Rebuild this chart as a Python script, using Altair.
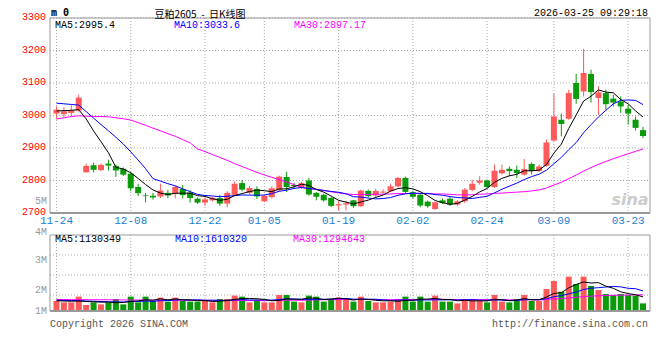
import altair as alt
import pandas as pd

# ---------------- data ----------------
idx = list(range(80))

opens = [3006, 3004, 3008, 3015, 2825, 2847, 2832, 2852, 2845, 2836,
         2821, 2780, 2754, 2753, 2751, 2762, 2759, 2774, 2763, 2744,
         2732, 2739, 2746, 2729, 2756, 2792, 2762, 2774, 2736, 2749,
         2770, 2811, 2786, 2778, 2800, 2762, 2756, 2746, 2723, 2726,
         2739, 2721, 2768, 2754, 2763, 2767, 2782, 2808, 2764, 2756,
         2735, 2712, 2739, 2744, 2726, 2736, 2771, 2793, 2800, 2780,
         2822, 2836, 2833, 2818, 2851, 2829, 2845, 2923, 2987, 2990,
         3100, 3074, 3128, 3054, 3069, 3052, 3043, 3021, 2987, 2955]

closes = [3018, 3013, 3016, 3055, 2845, 2833, 2848, 2846, 2831, 2818,
          2776, 2761, 2752, 2748, 2769, 2754, 2780, 2755, 2746, 2732,
          2742, 2746, 2729, 2762, 2790, 2772, 2777, 2751, 2753, 2776,
          2812, 2780, 2783, 2792, 2757, 2750, 2739, 2722, 2727, 2730,
          2721, 2769, 2752, 2768, 2766, 2782, 2808, 2765, 2750, 2723,
          2721, 2733, 2731, 2726, 2736, 2772, 2790, 2800, 2780, 2830,
          2833, 2829, 2823, 2835, 2829, 2843, 2917, 2997, 2974, 3069,
          3051, 3131, 3072, 3071, 3035, 3040, 3028, 3006, 2962, 2937]

highs = [3028, 3025, 3032, 3064, 2852, 2855, 2852, 2864, 2849, 2840,
         2826, 2790, 2762, 2762, 2790, 2771, 2785, 2786, 2770, 2748,
         2748, 2751, 2756, 2767, 2797, 2802, 2783, 2782, 2757, 2782,
         2815, 2827, 2793, 2796, 2808, 2764, 2760, 2749, 2736, 2737,
         2740, 2772, 2772, 2775, 2773, 2790, 2811, 2812, 2768, 2760,
         2738, 2735, 2745, 2750, 2740, 2777, 2802, 2813, 2803, 2849,
         2849, 2843, 2846, 2866, 2856, 2849, 2926, 3067, 3006, 3079,
         3128, 3205, 3141, 3090, 3080, 3064, 3059, 3033, 2997, 2965]

lows = [2990, 2996, 2998, 3012, 2825, 2825, 2828, 2831, 2811, 2814,
        2767, 2752, 2733, 2741, 2746, 2746, 2745, 2745, 2732, 2728,
        2721, 2735, 2722, 2718, 2751, 2767, 2757, 2743, 2733, 2745,
        2767, 2765, 2776, 2774, 2753, 2739, 2735, 2718, 2708, 2708,
        2716, 2718, 2748, 2749, 2758, 2765, 2779, 2760, 2745, 2718,
        2716, 2710, 2728, 2722, 2722, 2731, 2767, 2787, 2777, 2777,
        2818, 2813, 2808, 2815, 2818, 2826, 2843, 2920, 2936, 2987,
        3036, 3059, 3040, 3002, 3018, 3028, 3008, 2972, 2954, 2931]

ma5 = [3014, 3015, 3016, 3018, 2989.4, 2952.4, 2919.4, 2885.4, 2840.6, 2835.2,
       2823.8, 2806.4, 2787.6, 2771.0, 2761.2, 2756.8, 2760.6, 2761.2, 2760.8, 2753.4,
       2751.0, 2744.2, 2739.0, 2742.2, 2753.8, 2759.8, 2766.0, 2770.4, 2768.6, 2765.8,
       2773.8, 2774.4, 2780.8, 2788.6, 2784.8, 2772.4, 2764.2, 2752.0, 2739.0, 2733.6,
       2727.8, 2733.8, 2739.8, 2748.0, 2755.2, 2767.4, 2775.2, 2777.8, 2774.2, 2765.6,
       2753.4, 2738.4, 2731.6, 2726.8, 2729.4, 2739.6, 2751.0, 2764.8, 2775.6, 2794.4,
       2806.6, 2814.4, 2819.0, 2830.0, 2829.8, 2831.8, 2849.4, 2884.2, 2912.0, 2960.0,
       3001.6, 3044.4, 3059.4, 3078.8, 3072.0, 3069.8, 3049.2, 3036.0, 3014.2, 2995.4]

ma10 = [3038, 3036, 3034, 3032, 3012, 2992, 2972, 2953, 2933, 2912.3,
        2888.1, 2862.9, 2836.5, 2805.8, 2798.2, 2790.3, 2783.5, 2774.4, 2765.9, 2757.3,
        2753.9, 2752.4, 2750.1, 2751.5, 2753.6, 2755.4, 2755.1, 2754.7, 2755.4, 2759.8,
        2766.8, 2770.2, 2775.6, 2778.6, 2775.3, 2773.1, 2769.3, 2766.4, 2763.8, 2759.2,
        2750.1, 2749.0, 2745.9, 2743.5, 2744.4, 2747.6, 2754.5, 2758.8, 2761.1, 2760.4,
        2760.4, 2756.8, 2754.7, 2750.5, 2747.5, 2746.5, 2744.7, 2748.2, 2751.2, 2761.9,
        2773.1, 2782.7, 2791.9, 2802.8, 2812.1, 2819.2, 2831.9, 2851.6, 2871.0, 2894.9,
        2916.7, 2946.9, 2971.8, 2995.4, 3016.0, 3035.7, 3046.8, 3047.7, 3046.5, 3033.6]

ma30 = [2989, 2993, 2997, 2999, 2998, 2997, 2997, 2996, 2993, 2990,
        2986, 2978, 2970, 2961, 2953, 2944, 2936, 2926, 2916, 2897,
        2889, 2880, 2871, 2862, 2852, 2843, 2834, 2825, 2817, 2809.8,
        2802.9, 2795.2, 2787.4, 2778.6, 2775.7, 2772.9, 2769.3, 2765.2, 2761.7, 2758.8,
        2756.9, 2757.2, 2757.2, 2757.9, 2757.8, 2758.7, 2759.6, 2760.0, 2760.1, 2759.8,
        2759.1, 2758.7, 2758.7, 2757.5, 2755.7, 2755.7, 2756.2, 2757.8, 2758.7, 2760.5,
        2761.2, 2762.8, 2764.2, 2765.6, 2768.0, 2771.1, 2777.0, 2786.2, 2794.4, 2805.7,
        2816.7, 2828.8, 2839.5, 2849.6, 2858.5, 2867.1, 2874.5, 2882.5, 2889.6, 2897.17]

volume = [0.80, 0.69, 0.69, 1.15, 0.48, 0.69, 0.53, 0.69, 0.96, 0.53,
          1.15, 0.69, 1.15, 0.80, 1.07, 0.75, 1.07, 0.80, 0.75, 0.75,
          0.80, 0.69, 0.96, 0.96, 1.23, 1.15, 0.69, 0.88, 0.69, 0.69,
          1.28, 1.28, 0.75, 0.69, 1.23, 1.15, 0.75, 0.96, 1.07, 0.88,
          0.75, 1.15, 0.80, 0.69, 0.69, 0.75, 0.96, 1.15, 0.75, 1.15,
          0.75, 1.23, 0.75, 0.75, 0.61, 0.96, 0.96, 0.80, 0.69, 1.28,
          0.75, 0.69, 0.96, 1.28, 0.80, 0.80, 1.76, 2.40, 1.55, 2.75,
          2.16, 2.75, 2.00, 1.68, 1.36, 1.28, 1.36, 1.28, 1.23, 0.61]

vma5 = [0.82, 0.80, 0.78, 0.80, 0.762, 0.74, 0.708, 0.708, 0.67, 0.68,
        0.772, 0.804, 0.896, 0.864, 0.972, 0.892, 0.968, 0.898, 0.888, 0.824,
        0.834, 0.758, 0.79, 0.832, 0.928, 0.998, 0.998, 0.982, 0.928, 0.82,
        0.846, 0.964, 0.938, 0.938, 1.046, 1.02, 0.914, 0.956, 1.032, 0.962,
        0.882, 0.962, 0.93, 0.854, 0.816, 0.816, 0.778, 0.848, 0.86, 0.952,
        0.952, 1.006, 0.926, 0.926, 0.818, 0.86, 0.806, 0.816, 0.804, 0.938,
        0.896, 0.842, 0.874, 0.992, 0.896, 0.906, 1.12, 1.408, 1.462, 1.852,
        2.124, 2.322, 2.242, 2.268, 1.99, 1.814, 1.536, 1.392, 1.302, 1.130]

vma10 = [0.86, 0.85, 0.84, 0.83, 0.80, 0.78, 0.76, 0.74, 0.73, 0.721,
         0.756, 0.756, 0.802, 0.767, 0.826, 0.832, 0.886, 0.897, 0.876, 0.898,
         0.863, 0.863, 0.844, 0.86, 0.876, 0.916, 0.878, 0.886, 0.88, 0.874,
         0.922, 0.981, 0.96, 0.933, 0.933, 0.933, 0.939, 0.947, 0.985, 1.004,
         0.951, 0.938, 0.943, 0.943, 0.889, 0.849, 0.87, 0.889, 0.857, 0.884,
         0.884, 0.892, 0.887, 0.893, 0.885, 0.906, 0.906, 0.871, 0.865, 0.878,
         0.878, 0.824, 0.845, 0.898, 0.917, 0.901, 0.981, 1.141, 1.227, 1.374,
         1.515, 1.721, 1.825, 1.865, 1.921, 1.969, 1.929, 1.817, 1.785, 1.610]

vma30 = [0.92, 0.92, 0.91, 0.91, 0.91, 0.90, 0.90, 0.90, 0.89, 0.89,
         0.88, 0.88, 0.88, 0.87, 0.87, 0.87, 0.86, 0.86, 0.86, 0.85,
         0.85, 0.85, 0.85, 0.84, 0.84, 0.84, 0.84, 0.83, 0.83, 0.831,
         0.847, 0.867, 0.869, 0.853, 0.878, 0.894, 0.901, 0.91, 0.914, 0.925,
         0.912, 0.927, 0.916, 0.912, 0.899, 0.899, 0.896, 0.907, 0.907, 0.921,
         0.919, 0.937, 0.93, 0.923, 0.902, 0.896, 0.905, 0.902, 0.902, 0.922,
         0.904, 0.885, 0.892, 0.911, 0.897, 0.885, 0.919, 0.967, 0.983, 1.045,
         1.092, 1.146, 1.186, 1.219, 1.241, 1.259, 1.272, 1.276, 1.292, 1.295]

grid_idx = [0, 10, 20, 28, 38, 48, 58, 67, 77]
grid_labels = ["11-24", "12-08", "12-22", "01-05", "01-19", "02-02", "02-24", "03-09", "03-23"]
price_ticks = [2700, 2800, 2900, 3000, 3100, 3200, 3300]
vol_label_text = ["1M", "2M", "3M", "4M", "5M"]
vol_label_at = [0.0, 1.68, 4.08, 6.3, 8.8]        # millions
vol_grid_at = [1.28, 2.88, 4.48]                  # millions

# ---------------- frames ----------------
M = 1_000_000
df = pd.DataFrame({
    "i": idx, "open": opens, "high": highs, "low": lows, "close": closes,
    "ma5": ma5, "ma10": ma10, "ma30": ma30,
    "vol": [v * M for v in volume],
    "vma5": [v * M for v in vma5], "vma10": [v * M for v in vma10], "vma30": [v * M for v in vma30],
})
grid_df = pd.DataFrame({"i": grid_idx, "lab": grid_labels})
ptick_df = pd.DataFrame({"p": price_ticks, "t": [str(p) for p in price_ticks]})
vlab_df = pd.DataFrame({"v": [v * M for v in vol_label_at], "t": vol_label_text})
vgrid_df = pd.DataFrame({"v": [v * M for v in vol_grid_at]})
one = pd.DataFrame({"k": [0]})

RED = "#ff5a5a"
GREEN = "#0a9a0a"
MONO = "Liberation Mono"
GRID = "#aaaaaa"
FRAME = "#999999"
W, HP, VT, VB = 600, 195, 217, 293

xs = alt.Scale(domain=[-0.2, 79.27], nice=False, zero=False)
ps = alt.Scale(domain=[2700, 3300], range=[HP, 0], nice=False, zero=False)
vs = alt.Scale(domain=[0, 6.08 * M], range=[VB, VT], nice=False, zero=False)
X = alt.X("i:Q", scale=xs, axis=None)
col = alt.Color("dir:N", scale=alt.Scale(domain=["up", "down"], range=[RED, GREEN]), legend=None)


def label(txt, x, y, color="black", size=10, align="left", font=MONO, weight="normal", style="normal"):
    return alt.Chart(one).mark_text(
        align=align, baseline="middle", font=font, fontSize=size, fontWeight=weight,
        fontStyle=style, color=color,
    ).encode(x=alt.value(x), y=alt.value(y), text=alt.value(txt))


base = alt.Chart(df).transform_calculate(dir="datum.close >= datum.open ? 'up' : 'down'")

# ---------------- price panel ----------------
hgrid_p = alt.Chart(ptick_df).mark_rule(color=GRID, strokeDash=[1, 2]).encode(
    x=alt.value(0), x2=alt.value(W), y=alt.Y("p:Q", scale=ps, axis=None))
plab = alt.Chart(ptick_df).mark_text(
    font=MONO, fontSize=10, color="#ff0000", align="right", baseline="middle", dy=-1).encode(
    x=alt.value(-4), y=alt.Y("p:Q", scale=ps, axis=None), text="t:N")
vgrid_p = alt.Chart(grid_df).mark_rule(color=GRID, strokeDash=[1, 2]).encode(
    x=X, y=alt.value(0), y2=alt.value(HP))
wick = base.mark_rule(strokeWidth=1).encode(
    x=X, y=alt.Y("low:Q", scale=ps, axis=None), y2="high:Q", color=col)
body = base.mark_bar(size=6).encode(
    x=X, y=alt.Y("open:Q", scale=ps, axis=None), y2="close:Q", color=col)
l30 = alt.Chart(df).mark_line(color="#ff00ff", strokeWidth=1).encode(x=X, y=alt.Y("ma30:Q", scale=ps, axis=None))
l10 = alt.Chart(df).mark_line(color="#0000ff", strokeWidth=1).encode(x=X, y=alt.Y("ma10:Q", scale=ps, axis=None))
l5 = alt.Chart(df).mark_line(color="black", strokeWidth=1).encode(x=X, y=alt.Y("ma5:Q", scale=ps, axis=None))
frame_p = alt.Chart(one).mark_rect(fillOpacity=0, stroke=FRAME, strokeWidth=1).encode(
    x=alt.value(0), x2=alt.value(W), y=alt.value(0), y2=alt.value(HP))
bottom_p = alt.Chart(one).mark_rule(color=FRAME, strokeWidth=2).encode(
    x=alt.value(0), x2=alt.value(W), y=alt.value(HP))
date_lab = alt.Chart(grid_df).mark_text(
    font=MONO, fontSize=11, color="#1a7fd0", align="center", baseline="middle").encode(
    x=X, y=alt.value(HP + 8), text="lab:N")

price = alt.layer(
    hgrid_p, vgrid_p, plab, wick, body, l30, l10, l5, frame_p, bottom_p, date_lab,
    label("sina", 580, 182, color="#cccccc", size=16, align="center", font="DejaVu Sans",
          weight="bold", style="italic"),
    label("m 0", 1, -5, size=10, weight="bold", font="DejaVu Sans Mono"),
    label("豆粕2605\u00a0\u00a0-\u00a0\u00a0日K线图", 150, -3.5, size=10, align="center",
          font="Noto Sans CJK SC"),
    label("2026-03-25 09:29:18", 598, -5, align="right"),
    label("MA5:2995.4", 5, 6.5),
    label("MA10:3033.6", 124, 6.5, color="#0000ff"),
    label("MA30:2897.17", 244, 6.5, color="#ff00ff"),
)

# ---------------- volume panel ----------------
vgrid_v = alt.Chart(grid_df).mark_rule(color=GRID, strokeDash=[1, 2]).encode(
    x=X, y=alt.value(VT), y2=alt.value(VB))
hgrid_v = alt.Chart(vgrid_df).mark_rule(color=GRID, strokeDash=[1, 2]).encode(
    x=alt.value(0), x2=alt.value(W), y=alt.Y("v:Q", scale=vs, axis=None))
vbars = base.mark_bar(size=6).encode(
    x=X, y=alt.Y("vol:Q", scale=vs, axis=None), y2=alt.Y2(datum=0), color=col)
v30 = alt.Chart(df).mark_line(color="#ff00ff", strokeWidth=1).encode(x=X, y=alt.Y("vma30:Q", scale=vs, axis=None))
v10 = alt.Chart(df).mark_line(color="#0000ff", strokeWidth=1).encode(x=X, y=alt.Y("vma10:Q", scale=vs, axis=None))
v5 = alt.Chart(df).mark_line(color="black", strokeWidth=1).encode(x=X, y=alt.Y("vma5:Q", scale=vs, axis=None))
vlab = alt.Chart(vlab_df).mark_text(
    font=MONO, fontSize=10, color="#999999", align="right", baseline="middle").encode(
    x=alt.value(-3), y=alt.Y("v:Q", scale=vs, axis=None), text="t:N")
frame_v = alt.Chart(one).mark_rect(fillOpacity=0, stroke=FRAME, strokeWidth=1).encode(
    x=alt.value(0), x2=alt.value(W), y=alt.value(VT), y2=alt.value(VB))
bottom_v = alt.Chart(one).mark_rule(color=FRAME, strokeWidth=2).encode(
    x=alt.value(0), x2=alt.value(W), y=alt.value(VB))

vol = alt.layer(
    vgrid_v, hgrid_v, vbars, v30, v10, v5, vlab, frame_v, bottom_v,
    label("MA5:1130349", 5, VT + 4),
    label("MA10:1610320", 125, VT + 4, color="#0000ff"),
    label("MA30:1294643", 243, VT + 4, color="#ff00ff"),
    label("Copyright 2026 SINA.COM", 0, VB + 13, color="#555555"),
    label("http://finance.sina.com.cn", 598, VB + 13, color="#555555", align="right"),
)

chart = alt.layer(price, vol).resolve_scale(y="independent").properties(
    width=W, height=VB,
    autosize=alt.AutoSizeParams(type="none"),
    padding={"left": 42, "top": 10, "right": 2, "bottom": 30},
).configure_view(stroke=None)

chart.save("out.html", embed_options={"renderer": "svg", "actions": False})
